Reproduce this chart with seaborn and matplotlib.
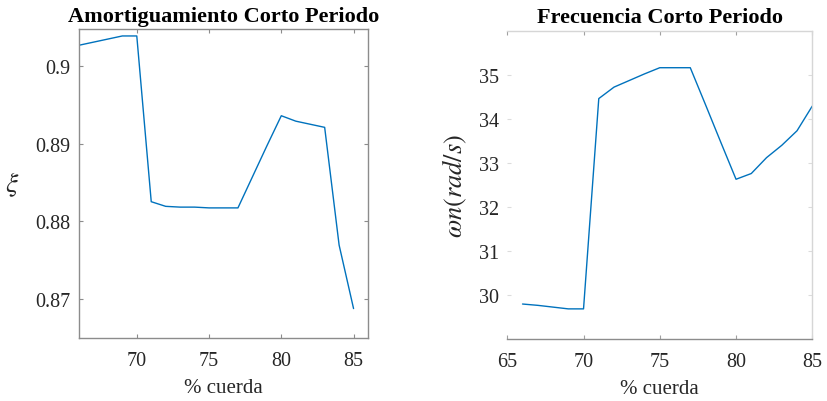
import matplotlib
matplotlib.use("Agg")
import matplotlib.pyplot as plt
import seaborn as sns
import pandas as pd

# Chord position (%) and short-period mode characteristics
cuerda = [66, 67, 68, 69, 70, 71, 72, 73, 74, 75, 76, 77, 78, 79, 80, 81, 82, 83, 84, 85]
amortiguamiento = [0.9027, 0.9031, 0.9035, 0.9039, 0.9039, 0.8825, 0.8819, 0.8818,
                   0.8818, 0.8817, 0.8817, 0.8817, 0.8857, 0.8897, 0.8936, 0.8929,
                   0.8925, 0.8921, 0.8769, 0.8687]
frecuencia = [29.80, 29.77, 29.73, 29.69, 29.69, 34.46, 34.72, 34.87, 35.02, 35.16,
              35.16, 35.16, 34.32, 33.47, 32.63, 32.76, 33.12, 33.40, 33.73, 34.29]

xi_ticks = [0.87, 0.88, 0.89, 0.90]
xi_ticklabels = ["0.87", "0.88", "0.89", "0.9"]
wn_ticks = [30, 31, 32, 33, 34, 35]
x_ticks_left = [70, 75, 80, 85]
x_ticks_right = [65, 70, 75, 80, 85]

df = pd.DataFrame({"cuerda": cuerda, "xi": amortiguamiento, "wn": frecuencia})

sns.set_theme(style="white")
plt.rcParams["font.family"] = ["Liberation Serif", "DejaVu Serif"]
plt.rcParams["mathtext.fontset"] = "stix"

line_color = "#0072BD"
text_color = "#262626"

fig = plt.figure(figsize=(8.27, 4.02), dpi=100)
ax1 = fig.add_axes([0.0955, 0.1567, 0.3495, 0.7687])
ax2 = fig.add_axes([0.6134, 0.1535, 0.3688, 0.7677])

# Left panel: damping ratio
sns.lineplot(data=df, x="cuerda", y="xi", ax=ax1, color=line_color, linewidth=1.0)
ax1.set_xlim(66, 86)
ax1.set_ylim(0.8649, 0.9048)
ax1.set_xticks(x_ticks_left)
ax1.set_yticks(xi_ticks)
ax1.set_yticklabels(xi_ticklabels)
ax1.set_title("Amortiguamiento Corto Periodo", fontsize=16, fontweight="bold",
              color="black", pad=6)
ax1.set_xlabel("% cuerda", fontsize=15, color=text_color, labelpad=6)
ax1.set_ylabel("")
ax1.text(-0.23, 0.5, r"$\xi$", transform=ax1.transAxes, fontsize=20,
         color=text_color, rotation=0, ha="center", va="center")
for s in ax1.spines.values():
    s.set_color("#8c8c8c")
    s.set_linewidth(1.0)
ax1.tick_params(axis="both", direction="in", length=3, width=0.8, color="#8c8c8c",
                labelsize=14.5, labelcolor=text_color, top=True, right=True,
                bottom=True, left=True)
ax1.tick_params(axis="x", pad=9)
ax1.tick_params(axis="y", pad=6)

# Right panel: natural frequency
sns.lineplot(data=df, x="cuerda", y="wn", ax=ax2, color=line_color, linewidth=1.0)
ax2.set_xlim(65, 85)
ax2.set_ylim(29, 36)
ax2.set_xticks(x_ticks_right)
ax2.set_yticks(wn_ticks)
ax2.set_title("Frecuencia Corto Periodo", fontsize=16, fontweight="bold",
              color="black", pad=6)
ax2.set_xlabel("% cuerda", fontsize=15, color=text_color, labelpad=6)
ax2.set_ylabel(r"$\omega n(rad/s)$", fontsize=19, color=text_color, labelpad=7)
ax2.spines["left"].set_visible(False)
ax2.spines["bottom"].set_color("#8c8c8c")
ax2.spines["top"].set_color("#d6d6d6")
ax2.spines["right"].set_color("#d6d6d6")
for s in ax2.spines.values():
    s.set_linewidth(1.0)
ax2.tick_params(axis="both", direction="in", length=3, width=0.8, color="#a0a0a0",
                labelsize=14.5, labelcolor=text_color, top=True, right=True,
                bottom=True, left=True)
ax2.tick_params(axis="y", which="both", left=True, color="#dcdcdc", pad=6)
ax2.tick_params(axis="x", pad=9)

fig.savefig("out.png", dpi=100)
